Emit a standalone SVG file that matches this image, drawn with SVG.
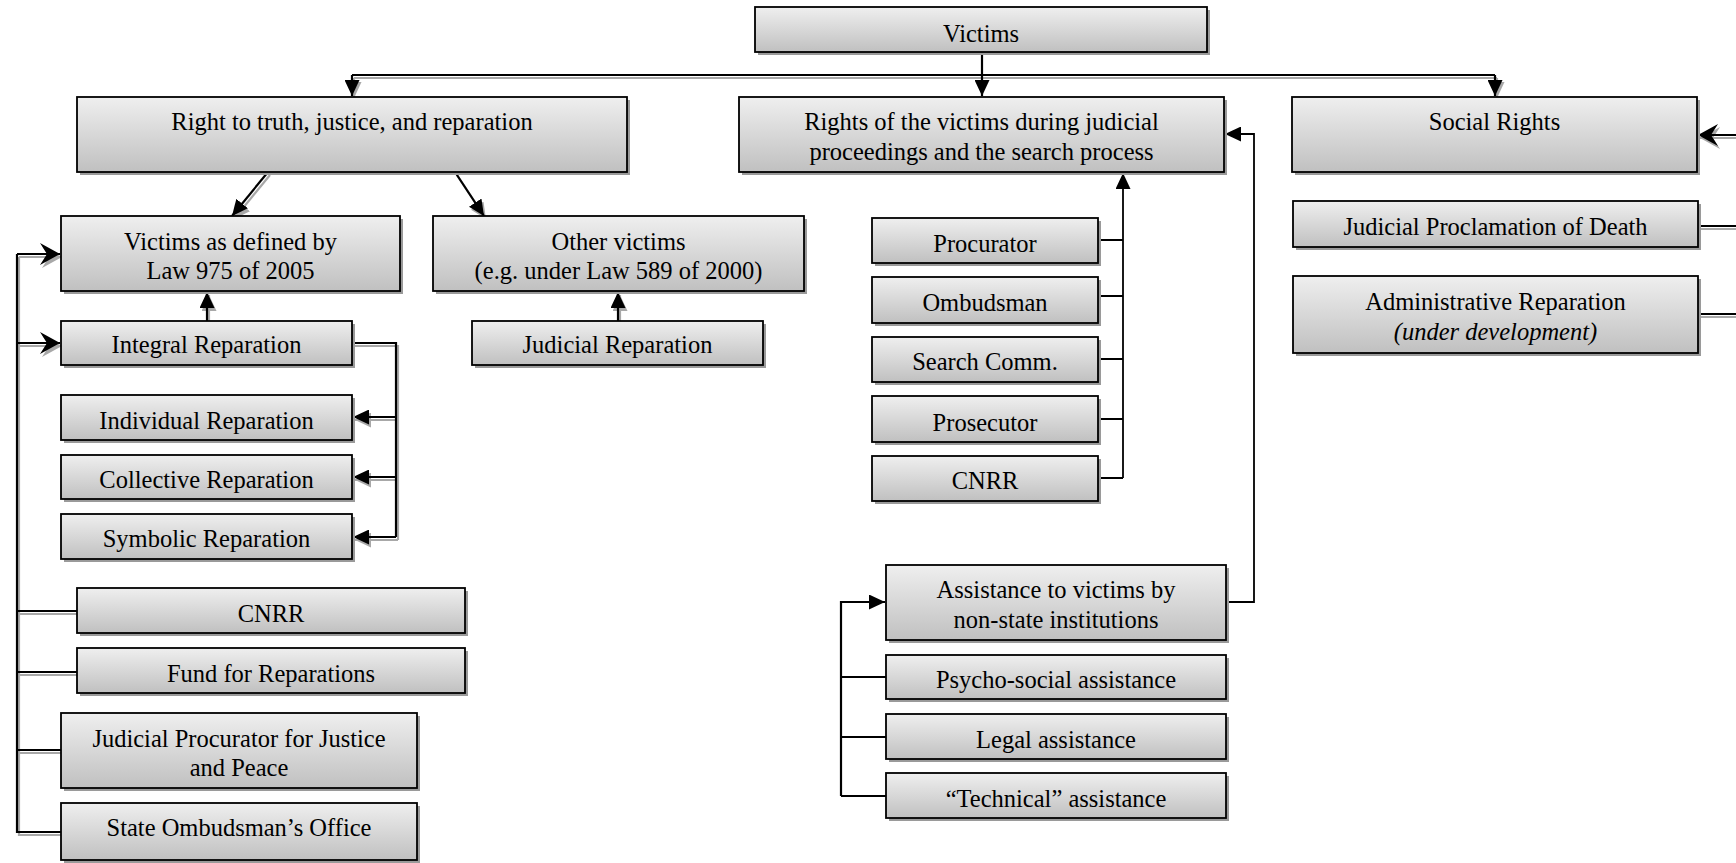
<svg xmlns="http://www.w3.org/2000/svg" width="1736" height="863" viewBox="0 0 1736 863">
<defs>
<linearGradient id="g" x1="0" y1="0" x2="0" y2="1">
<stop offset="0" stop-color="#efefef"/>
<stop offset="1" stop-color="#c0c0c0"/>
</linearGradient>
<marker id="a" markerUnits="userSpaceOnUse" markerWidth="17" markerHeight="15" refX="16" refY="7.5" orient="auto">
<path d="M0,0 L16,7.5 L0,15 z" fill="#000"/>
</marker>
<marker id="as" markerUnits="userSpaceOnUse" markerWidth="17" markerHeight="15" refX="16" refY="7.5" orient="auto">
<path d="M0,0 L16,7.5 L0,15 z" fill="#a8a8a8"/>
</marker>
<marker id="o" markerUnits="userSpaceOnUse" markerWidth="21" markerHeight="22" refX="20" refY="11" orient="auto">
<path d="M0,0 L20,11 L0,22 L7,11 z" fill="#000"/>
</marker>
<marker id="os" markerUnits="userSpaceOnUse" markerWidth="21" markerHeight="22" refX="20" refY="11" orient="auto">
<path d="M0,0 L20,11 L0,22 L7,11 z" fill="#a8a8a8"/>
</marker>
</defs>
<style>
.b{fill:url(#g);stroke:#000;stroke-width:1.8}
.s{fill:#9a9a9a}
text{font-family:"Liberation Serif","Times New Roman",serif;font-size:24.5px;fill:#000;text-anchor:middle}
.i{font-style:italic}
.c{fill:none;stroke:#000;stroke-width:2.2}
.t{fill:none;stroke:#000;stroke-width:1.8}
.sh{fill:none;stroke:#a8a8a8;stroke-width:2.2}
</style>

<g id="connectors">
<g transform="translate(2,3)">
<path class="sh" d="M352,75 H1495"/>
<path class="sh" d="M352,75 V95" marker-end="url(#as)"/>
<path class="sh" d="M1495,75 V95" marker-end="url(#as)"/>
<path class="sh" d="M268,172 L232,216" marker-end="url(#as)"/>
<path class="sh" d="M455,172 L484,216" marker-end="url(#as)"/>
<path class="sh" d="M207,321 V292" marker-end="url(#as)"/>
<path class="sh" d="M618,321 V292" marker-end="url(#as)"/>
<path class="sh" d="M352,343 H396 V537"/>
<path class="sh" d="M396,417 H353" marker-end="url(#as)"/>
<path class="sh" d="M396,477 H353" marker-end="url(#as)"/>
<path class="sh" d="M396,537 H353" marker-end="url(#as)"/>
<path class="sh" d="M17,254 V832 H61"/>
<path class="sh" d="M17,254 H60" marker-end="url(#os)"/>
<path class="sh" d="M17,343 H60" marker-end="url(#os)"/>
<path class="sh" d="M17,611 H77"/>
<path class="sh" d="M17,672 H77"/>
<path class="sh" d="M17,750 H61"/>
<path class="sh" d="M1736,135 H1698" marker-end="url(#os)"/>
<path class="sh" d="M1698,226 H1736"/>
<path class="sh" d="M1698,314 H1736"/>
</g>
<path class="c" d="M982,52 V96" marker-end="url(#a)"/>
<path class="c" d="M352,75 H1495"/>
<path class="c" d="M352,75 V96" marker-end="url(#a)"/>
<path class="c" d="M1495,75 V96" marker-end="url(#a)"/>
<path class="c" d="M268,172 L232,216" marker-end="url(#a)"/>
<path class="c" d="M455,172 L484,216" marker-end="url(#a)"/>
<path class="c" d="M207,321 V292" marker-end="url(#a)"/>
<path class="c" d="M618,321 V292" marker-end="url(#a)"/>
<path class="c" d="M352,343 H396 V537"/>
<path class="c" d="M396,417 H353" marker-end="url(#a)"/>
<path class="c" d="M396,477 H353" marker-end="url(#a)"/>
<path class="c" d="M396,537 H353" marker-end="url(#a)"/>
<path class="c" d="M17,254 V832 H61"/>
<path class="c" d="M17,254 H60" marker-end="url(#o)"/>
<path class="c" d="M17,343 H60" marker-end="url(#o)"/>
<path class="c" d="M17,611 H77"/>
<path class="c" d="M17,672 H77"/>
<path class="c" d="M17,750 H61"/>
<path class="t" d="M1123,478 V173" marker-end="url(#a)"/>
<path class="t" d="M1098,240 H1123 M1098,296 H1123 M1098,359 H1123 M1098,419 H1123 M1098,478 H1123"/>
<path class="t" d="M1226,602 H1254 V134 H1225" marker-end="url(#a)"/>
<path class="c" d="M841,796 V602 H885" marker-end="url(#a)"/>
<path class="t" d="M841,677 H886 M841,737 H886 M841,796 H886"/>
<path class="c" d="M1736,135 H1698" marker-end="url(#o)"/>
<path class="c" d="M1698,226 H1736"/>
<path class="c" d="M1698,314 H1736"/>
</g>

<g id="victims"><rect class="s" x="758" y="10" width="452" height="45"/><rect class="b" x="755" y="7" width="452" height="45"/><text x="981" y="42">Victims</text></g>
<g id="right-truth"><rect class="s" x="80" y="100" width="550" height="75"/><rect class="b" x="77" y="97" width="550" height="75"/><text x="352" y="130">Right to truth, justice, and reparation</text></g>
<g id="rights-judicial"><rect class="s" x="742" y="100" width="485" height="75"/><rect class="b" x="739" y="97" width="485" height="75"/><text x="981.5" y="130">Rights of the victims during judicial</text><text x="981.5" y="160">proceedings and the search process</text></g>
<g id="social-rights"><rect class="s" x="1295" y="100" width="405" height="75"/><rect class="b" x="1292" y="97" width="405" height="75"/><text x="1494.5" y="130">Social Rights</text></g>
<g id="law975"><rect class="s" x="64" y="219" width="339" height="75"/><rect class="b" x="61" y="216" width="339" height="75"/><text x="230.5" y="250">Victims as defined by</text><text x="230.5" y="279">Law 975 of 2005</text></g>
<g id="other-victims"><rect class="s" x="436" y="219" width="371" height="75"/><rect class="b" x="433" y="216" width="371" height="75"/><text x="618.5" y="250">Other victims</text><text x="618.5" y="279">(e.g. under Law 589 of 2000)</text></g>
<g id="integral"><rect class="s" x="64" y="324" width="291" height="44"/><rect class="b" x="61" y="321" width="291" height="44"/><text x="206.5" y="353">Integral Reparation</text></g>
<g id="judicial-rep"><rect class="s" x="475" y="324" width="291" height="44"/><rect class="b" x="472" y="321" width="291" height="44"/><text x="617.5" y="353">Judicial Reparation</text></g>
<g id="individual"><rect class="s" x="64" y="398" width="291" height="45"/><rect class="b" x="61" y="395" width="291" height="45"/><text x="206.5" y="429">Individual Reparation</text></g>
<g id="collective"><rect class="s" x="64" y="458" width="291" height="44"/><rect class="b" x="61" y="455" width="291" height="44"/><text x="206.5" y="488">Collective Reparation</text></g>
<g id="symbolic"><rect class="s" x="64" y="517" width="291" height="45"/><rect class="b" x="61" y="514" width="291" height="45"/><text x="206.5" y="547">Symbolic Reparation</text></g>
<g id="cnrr-left"><rect class="s" x="80" y="591" width="388" height="45"/><rect class="b" x="77" y="588" width="388" height="45"/><text x="271" y="622">CNRR</text></g>
<g id="fund"><rect class="s" x="80" y="651" width="388" height="45"/><rect class="b" x="77" y="648" width="388" height="45"/><text x="271" y="682">Fund for Reparations</text></g>
<g id="judicial-procurator"><rect class="s" x="64" y="716" width="356" height="75"/><rect class="b" x="61" y="713" width="356" height="75"/><text x="239" y="747">Judicial Procurator for Justice</text><text x="239" y="776">and Peace</text></g>
<g id="state-ombudsman"><rect class="s" x="64" y="806" width="356" height="57"/><rect class="b" x="61" y="803" width="356" height="57"/><text x="239" y="836">State Ombudsman’s Office</text></g>
<g id="procurator"><rect class="s" x="875" y="221" width="226" height="45"/><rect class="b" x="872" y="218" width="226" height="45"/><text x="985" y="252">Procurator</text></g>
<g id="ombudsman"><rect class="s" x="875" y="280" width="226" height="46"/><rect class="b" x="872" y="277" width="226" height="46"/><text x="985" y="311">Ombudsman</text></g>
<g id="search"><rect class="s" x="875" y="340" width="226" height="45"/><rect class="b" x="872" y="337" width="226" height="45"/><text x="985" y="370">Search Comm.</text></g>
<g id="prosecutor"><rect class="s" x="875" y="399" width="226" height="46"/><rect class="b" x="872" y="396" width="226" height="46"/><text x="985" y="431">Prosecutor</text></g>
<g id="cnrr-mid"><rect class="s" x="875" y="459" width="226" height="45"/><rect class="b" x="872" y="456" width="226" height="45"/><text x="985" y="489">CNRR</text></g>
<g id="assistance"><rect class="s" x="889" y="568" width="340" height="75"/><rect class="b" x="886" y="565" width="340" height="75"/><text x="1056" y="598">Assistance to victims by</text><text x="1056" y="628">non-state institutions</text></g>
<g id="psycho"><rect class="s" x="889" y="658" width="340" height="44"/><rect class="b" x="886" y="655" width="340" height="44"/><text x="1056" y="688">Psycho-social assistance</text></g>
<g id="legal"><rect class="s" x="889" y="717" width="340" height="45"/><rect class="b" x="886" y="714" width="340" height="45"/><text x="1056" y="748">Legal assistance</text></g>
<g id="technical"><rect class="s" x="889" y="776" width="340" height="45"/><rect class="b" x="886" y="773" width="340" height="45"/><text x="1056" y="807">“Technical” assistance</text></g>
<g id="proclamation"><rect class="s" x="1296" y="204" width="405" height="46"/><rect class="b" x="1293" y="201" width="405" height="46"/><text x="1495.5" y="235">Judicial Proclamation of Death</text></g>
<g id="admin-rep"><rect class="s" x="1296" y="279" width="405" height="77"/><rect class="b" x="1293" y="276" width="405" height="77"/><text x="1495.5" y="310">Administrative Reparation</text><text class="i" x="1495.5" y="340">(under development)</text></g>
</svg>
